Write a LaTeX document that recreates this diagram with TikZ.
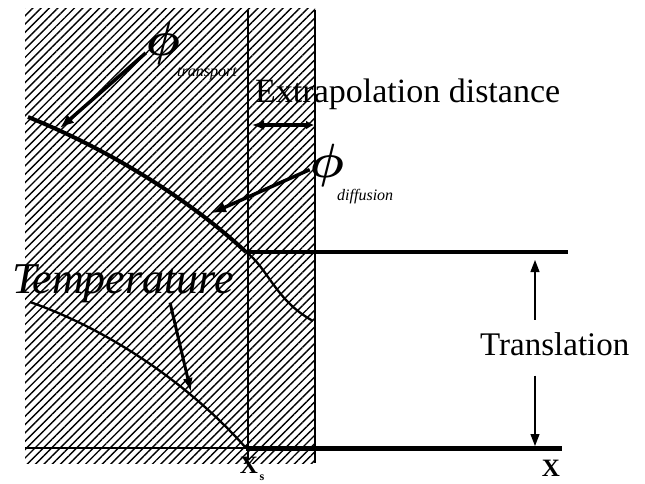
\documentclass[tikz,border=0pt]{standalone}
\usepackage{amsmath}
\usepackage{fontspec}
\usepackage{graphicx}
\setmainfont{Liberation Serif}
\usetikzlibrary{arrows.meta,patterns.meta,calc}
\begin{document}
\begin{tikzpicture}[x=1pt,y=-1pt,
  hatch/.style={pattern={Lines[angle=45,distance=5.9pt,line width=1.4pt]}},
  thickline/.style={line width=4pt},
  thinline/.style={line width=2.3pt},
  pointer/.style={line width=3.5pt,-{Latex[length=14pt,width=11pt]}},
  dimarrow/.style={line width=1.2pt,-{Triangle[length=12pt,width=9pt]}},
  lbl/.style={inner sep=0pt},
  bigphi/.style={inner sep=0pt},
  sublbl/.style={inner sep=0pt,anchor=base west,font=\fontsize{16}{18}\selectfont\itshape},
  axlbl/.style={inner sep=0pt,font=\fontsize{25}{26}\selectfont}
]
\useasboundingbox (0,0) rectangle (645,483);
% hatched region
\fill[hatch] (25,8) rectangle (315,463);
\draw[thinline] (248,10) -- (248,460);
\draw[thinline] (315,10) -- (315,463);

% key points
\coordinate (j) at (246,252);
\coordinate (s) at (246,448);
\coordinate (tstart) at (28,117);
\coordinate (uend) at (568,252);
\coordinate (aend) at (562,448);
\coordinate (dend) at (313,321);
\coordinate (tempstart) at (30,302);

% curves and lines
\draw[thickline] (tstart) .. controls (110,150) and (190,200) .. (j);
\draw[thickline] (j) -- (uend);
\draw[thinline] (j) .. controls (268,268) and (275,300) .. (dend);
\draw[thinline] (tempstart) .. controls (110,330) and (190,385) .. (s);
\draw[line width=2.8pt] (25,448) -- (s);
\draw[line width=5pt] (s) -- (aend);

% labels
\node[lbl,anchor=base west,font=\fontsize{34}{36}\selectfont] (ext) at (255,102) {Extrapolation distance};
\node[lbl,anchor=base west,font=\fontsize{44}{46}\selectfont\itshape] (temp) at (12,293) {Temperature};
\node[lbl,anchor=base west,font=\fontsize{33}{35}\selectfont] (trans) at (480,355) {Translation};
\node[bigphi] (phit) at (163,43) {\scalebox{4.8}{$\boldsymbol{\phi}$}};
\node[sublbl] (subt) at (177,76) {transport};
\node[bigphi] (phid) at (327,165) {\scalebox{4.8}{$\boldsymbol{\phi}$}};
\node[sublbl] (subd) at (337,200) {diffusion};
\node[axlbl] (xs) at (249,465) {\textbf{X}};
\node[inner sep=0pt,font=\fontsize{12}{13}\selectfont] (xssub) at (262,478) {\textbf{s}};
\node[axlbl] (xr) at (551,468) {\textbf{X}};

% pointers
\coordinate (tp) at (60,128);
\coordinate (dp) at (212,213);
\coordinate (tmp) at (191,392);
\draw[pointer] (phit.210) -- (tp);
\draw[pointer] (phid.195) -- (dp);
\draw[line width=3pt,-{Latex[length=14pt,width=10pt]}] ($(temp.south)+(47,0)$) -- (tmp);

% extrapolation distance arrow
\coordinate (ea) at (252,125);
\coordinate (eb) at (314,125);
\draw[line width=3.5pt,{Latex[length=12pt,width=10pt]}-{Latex[length=8pt,width=9pt]}] (ea) -- (eb);

% translation arrows
\coordinate (tu) at (535,260);
\coordinate (td) at (535,446);
\draw[dimarrow] ($(trans.north -| tu)+(0,-12)$) -- (tu);
\draw[dimarrow] ($(trans.south -| td)+(0,20)$) -- (td);
\end{tikzpicture}
\end{document}
